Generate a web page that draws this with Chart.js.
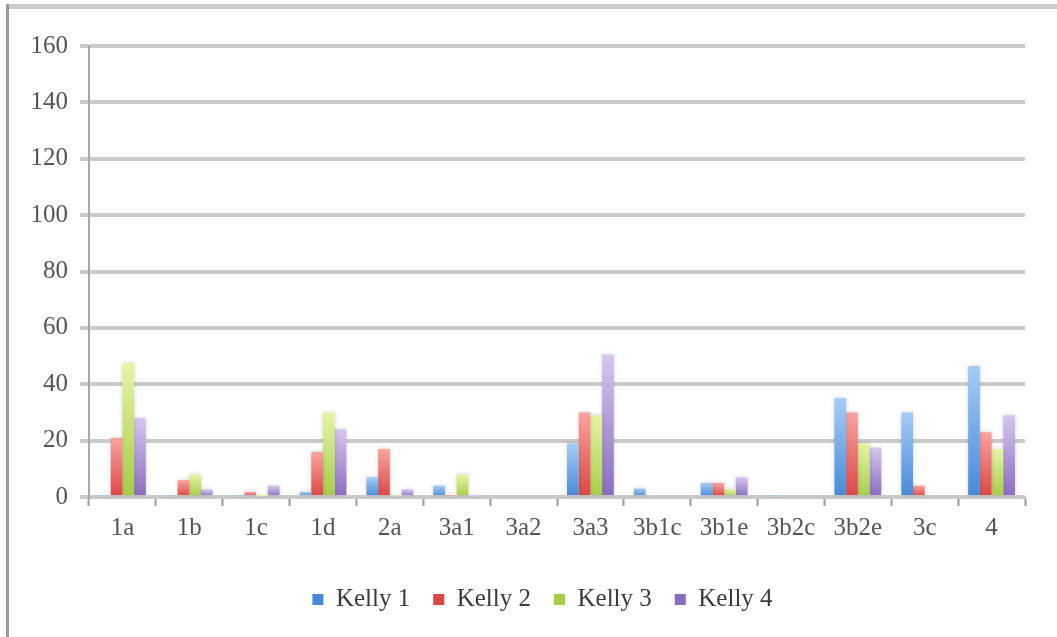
<!DOCTYPE html>
<html>
<head>
<meta charset="utf-8">
<style>
  html, body { margin: 0; padding: 0; background: #ffffff; }
  #wrap { width: 1057px; height: 637px; position: relative; }
</style>
<script src="https://cdn.jsdelivr.net/npm/chart.js@4/dist/chart.umd.min.js"></script>
</head>
<body>
<div id="wrap"><canvas id="chart" width="1057" height="637"></canvas></div>
<script>
// Categories along the x axis
const categories = ['1a', '1b', '1c', '1d', '2a', '3a1', '3a2', '3a3', '3b1c', '3b1e', '3b2c', '3b2e', '3c', '4'];

// Series values per category
const kelly1 = [0.5, 0.5, 0.5, 1.8, 7, 4, 0, 19, 3, 5, 0.5, 35, 30, 46.5];
const kelly2 = [21, 6, 1.8, 16, 17, 0.4, 0, 30, 0, 5, 0, 30, 4, 23];
const kelly3 = [47.5, 8, 0.4, 30, 0.5, 8, 0, 29, 0, 2.7, 0, 19, 0, 17];
const kelly4 = [28, 2.7, 4, 24, 2.7, 0.4, 0, 50.5, 0, 7, 0, 17.5, 0, 29];

const seriesNames = ['Kelly 1', 'Kelly 2', 'Kelly 3', 'Kelly 4'];

// Y axis tick values
const yTicks = [0, 20, 40, 60, 80, 100, 120, 140, 160];

// Light (top) and dark (bottom) shades for each series
const palette = [
  { top: '#a4ccf7', bottom: '#4789d8', solid: '#5596e0' },
  { top: '#f9a4a0', bottom: '#dc4644', solid: '#e86464' },
  { top: '#e6f5a6', bottom: '#a6cc48', solid: '#c2df72' },
  { top: '#d6c6ef', bottom: '#8a6cc0', solid: '#a28bcf' }
];

// Vertical gradient spanning each individual bar
function barFill(i) {
  return (ctx) => {
    const chart = ctx.chart;
    if (ctx.type !== 'data' || !chart.chartArea) return palette[i].solid;
    const y = chart.scales.y;
    const top = y.getPixelForValue(ctx.raw);
    const base = y.getPixelForValue(0);
    if (!isFinite(top) || base - top < 1) return palette[i].bottom;
    const g = chart.ctx.createLinearGradient(0, top, 0, base);
    g.addColorStop(0, palette[i].top);
    g.addColorStop(1, palette[i].bottom);
    return g;
  };
}

// Outer frame lines along the top and left edges
const framePlugin = {
  id: 'frame',
  afterDraw(chart) {
    const c = chart.ctx;
    c.save();
    c.strokeStyle = '#cccccc';
    c.lineWidth = 5;
    c.beginPath();
    c.moveTo(6, 6.5);
    c.lineTo(1057, 6.5);
    c.stroke();
    c.strokeStyle = '#9a9a9a';
    c.lineWidth = 3;
    c.beginPath();
    c.moveTo(7.5, 4);
    c.lineTo(7.5, 637);
    c.stroke();
    c.restore();
  }
};

// Soft halo around the bars
const haloPlugin = {
  id: 'halo',
  beforeDatasetsDraw(chart) {
    const c = chart.ctx;
    c.save();
    c.shadowColor = 'rgba(0,0,0,0.18)';
    c.shadowBlur = 4;
  },
  afterDatasetsDraw(chart) {
    chart.ctx.restore();
  }
};

// Legend row centred a little left of the plot centre
const legendPlacePlugin = {
  id: 'legendPlace',
  afterLayout(chart) {
    const lg = chart.legend;
    if (!lg) return;
    lg.left = 60;
    lg.right = 1025;
    lg.width = lg.right - lg.left;
  }
};

const datasets = [kelly1, kelly2, kelly3, kelly4].map((vals, i) => ({
  label: seriesNames[i],
  data: vals,
  backgroundColor: barFill(i),
  borderWidth: 0,
  categoryPercentage: 0.7,
  barPercentage: 1.0
}));

new Chart(document.getElementById('chart'), {
  type: 'bar',
  data: { labels: categories, datasets },
  plugins: [framePlugin, haloPlugin, legendPlacePlugin],
  options: {
    responsive: false,
    animation: false,
    layout: { padding: { left: 0, right: 32, top: 46, bottom: 15 } },
    scales: {
      x: {
        grid: {
          offset: true,
          drawOnChartArea: false,
          drawTicks: true,
          tickLength: 9,
          tickColor: '#9a9a9a',
          tickWidth: 2
        },
        border: { display: true, color: '#c8c8c8', width: 3 },
        ticks: {
          color: '#555555',
          font: { family: 'Liberation Serif', size: 25 },
          padding: 7,
          maxRotation: 0,
          autoSkip: false
        },
        afterFit(scale) { scale.height = 67; }
      },
      y: {
        min: 0,
        max: 160,
        afterBuildTicks(scale) { scale.ticks = yTicks.map(v => ({ value: v })); },
        grid: {
          color: '#cbcbcb',
          lineWidth: 4,
          drawTicks: true,
          tickLength: 9,
          tickColor: '#cbcbcb'
        },
        border: { display: true, color: '#a8a8a8', width: 2 },
        ticks: {
          color: '#555555',
          font: { family: 'Liberation Serif', size: 25 },
          padding: 12
        },
        afterFit(scale) { scale.width = 89; }
      }
    },
    plugins: {
      legend: {
        position: 'bottom',
        labels: {
          boxWidth: 11,
          boxHeight: 11,
          padding: 23,
          color: '#3a3a3a',
          font: { family: 'Liberation Serif', size: 25 }
        }
      },
      tooltip: { enabled: false }
    }
  }
});
</script>
</body>
</html>
